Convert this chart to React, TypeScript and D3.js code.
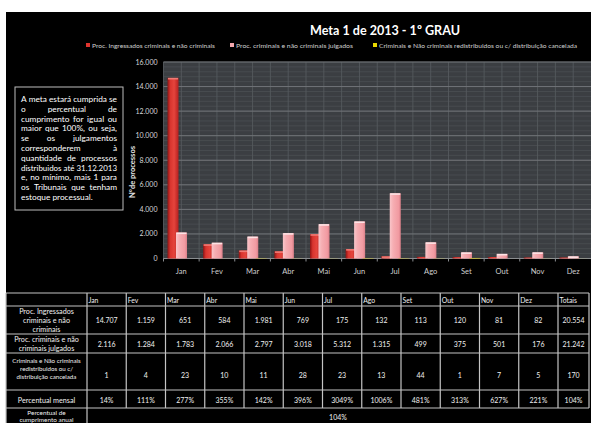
import React, { useEffect, useRef } from 'react';
import * as d3 from 'd3';

const months = ['Jan', 'Fev', 'Mar', 'Abr', 'Mai', 'Jun', 'Jul', 'Ago', 'Set', 'Out', 'Nov', 'Dez'];
const ingressados = [14707, 1159, 651, 584, 1981, 769, 175, 132, 113, 120, 81, 82];
const julgados = [2116, 1284, 1783, 2066, 2797, 3018, 5312, 1315, 499, 375, 501, 176];
const redistribuidos = [1, 4, 23, 10, 11, 28, 23, 13, 44, 1, 7, 5];
const percentualMensal = ['14%', '111%', '277%', '355%', '142%', '396%', '3049%', '1006%', '481%', '313%', '627%', '221%'];
const totais = [20554, 21242, 170];
const percentualTotal = '104%';
const percentualAnual = '104%';
const yTicks = [0, 2000, 4000, 6000, 8000, 10000, 12000, 14000, 16000];

const seriesNames = [
  'Proc. Ingressados criminais e não criminais',
  'Proc. criminais e não criminais julgados',
  'Criminais e Não criminais redistribuidos ou c/ distribuição cancelada',
];

const rowLabels = [
  ['Proc. Ingressados', 'criminais e não', 'criminais'],
  ['Proc. criminais e não', 'criminais julgados'],
  ['Criminais e Não criminais', 'redistribuidos ou c/', 'distribuição cancelada'],
  ['Percentual mensal'],
  ['Percentual de', 'cumprimento anual'],
];

const metaText = [
  'A meta estará cumprida se',
  'o percentual de',
  'cumprimento for igual ou',
  'maior que 100%, ou seja,',
  'se os julgamentos',
  'corresponderem à',
  'quantidade de processos',
  'distribuidos até 31.12.2013',
  'e, no mínimo, mais 1 para',
  'os Tribunais que tenham',
  'estoque processual.',
];

const FONT = 'Lato, "Open Sans", sans-serif';

const App = () => {
  const svgRef = useRef<SVGSVGElement>(null);

  useEffect(() => {
    const svg = d3.select(svgRef.current);
    svg.selectAll('*').remove();

    const ptBR = d3.formatLocale({ decimal: ',', thousands: '.', grouping: [3], currency: ['R$', ''] });
    const fmt = ptBR.format(',');

    // background
    svg.append('rect').attr('width', 591).attr('height', 423).attr('fill', '#fff');
    svg.append('rect').attr('x', 6).attr('y', 12).attr('width', 585).attr('height', 411).attr('fill', '#000');

    const defs = svg.append('defs');
    const grad = (id, stops) => {
      const g = defs.append('linearGradient').attr('id', id).attr('x1', 0).attr('x2', 1).attr('y1', 0).attr('y2', 0);
      stops.forEach(([o, c]) => g.append('stop').attr('offset', o).attr('stop-color', c));
    };
    grad('gRed', [[0, '#8e1414'], [0.25, '#d8342e'], [0.6, '#e5443c'], [1, '#b52020']]);
    grad('gPink', [[0, '#f9c6ca'], [0.3, '#f6aeb3'], [0.8, '#f19aa1'], [1, '#d97f88']]);
    grad('gYellow', [[0, '#b8a800'], [0.4, '#e8d800'], [1, '#c7b600']]);
    const fills = ['url(#gRed)', 'url(#gPink)', 'url(#gYellow)'];
    const caps = ['#f07a74', '#fde3e5', '#fff27a'];
    const legendColors = ['#e0342e', '#f4a8ae', '#e8d800'];

    // title
    svg.append('text')
      .attr('x', 385).attr('y', 34.5)
      .attr('text-anchor', 'middle')
      .attr('font-family', FONT).attr('font-weight', 'bold').attr('font-size', 14)
      .attr('textLength', 150).attr('lengthAdjust', 'spacingAndGlyphs')
      .attr('fill', '#fff')
      .text('Meta 1 de 2013 - 1º GRAU');

    // legend
    const legendX = [86, 230, 373];
    const legendW = [123, 117, 198];
    seriesNames.forEach((name, i) => {
      svg.append('rect').attr('x', legendX[i]).attr('y', 43).attr('width', 4).attr('height', 4).attr('fill', legendColors[i]);
      svg.append('text')
        .attr('x', legendX[i] + 6).attr('y', 47.5)
        .attr('font-family', FONT).attr('font-size', 6.5)
        .attr('textLength', legendW[i]).attr('lengthAdjust', 'spacingAndGlyphs')
        .attr('fill', '#d0d0d0')
        .text(name);
    });

    // chart
    const x = d3.scaleBand().domain(months).range([163.5, 591]);
    const y = d3.scaleLinear().domain([0, 16000]).range([258.5, 62]);
    const inner = d3.scaleBand().domain(['0', '1', '2']).range([4, 32]).paddingInner(-0.3);

    const plot = svg.append('g');
    plot.append('rect')
      .attr('x', x.range()[0]).attr('y', y(16000))
      .attr('width', x.range()[1] - x.range()[0]).attr('height', y(0) - y(16000))
      .attr('fill', '#3b3e42');

    d3.range(0, 16001, 400).forEach(v => {
      plot.append('line')
        .attr('x1', x.range()[0]).attr('x2', x.range()[1])
        .attr('y1', y(v)).attr('y2', y(v))
        .attr('stroke', '#4b4f53').attr('stroke-width', 0.8);
    });
    months.forEach(m => {
      [0, x.bandwidth() / 2].forEach(o => {
        plot.append('line')
          .attr('x1', x(m) + o).attr('x2', x(m) + o)
          .attr('y1', y(16000)).attr('y2', y(0))
          .attr('stroke', '#55595d').attr('stroke-width', 0.9);
      });
    });
    yTicks.forEach(v => {
      plot.append('line')
        .attr('x1', x.range()[0]).attr('x2', x.range()[1])
        .attr('y1', y(v)).attr('y2', y(v))
        .attr('stroke', '#717478').attr('stroke-width', 1);
    });

    // axes
    plot.append('line')
      .attr('x1', x.range()[0]).attr('x2', x.range()[1])
      .attr('y1', y(0)).attr('y2', y(0))
      .attr('stroke', '#8a8d90');
    months.forEach(m => {
      plot.append('line')
        .attr('x1', x(m)).attr('x2', x(m))
        .attr('y1', y(0)).attr('y2', y(0) + 3)
        .attr('stroke', '#8a8d90');
      plot.append('text')
        .attr('x', x(m) + x.bandwidth() / 2).attr('y', 273.5)
        .attr('text-anchor', 'middle')
        .attr('font-family', FONT).attr('font-size', 7.5)
        .attr('fill', '#cfcfcf')
        .text(m);
    });
    yTicks.forEach(v => {
      plot.append('text')
        .attr('x', 157.5).attr('y', y(v) + 2.5)
        .attr('text-anchor', 'end')
        .attr('font-family', FONT).attr('font-size', 7)
        .attr('fill', '#d8d8d8')
        .text(fmt(v));
    });
    plot.append('text')
      .attr('transform', 'translate(135,172) rotate(-90)')
      .attr('text-anchor', 'middle')
      .attr('font-family', FONT).attr('font-weight', 'bold').attr('font-size', 7.5)
      .attr('fill', '#e0e0e0')
      .text('N°de processos');

    // bars
    [ingressados, julgados, redistribuidos].forEach((series, s) => {
      series.forEach((v, i) => {
        const bx = x(months[i]) + inner(String(s));
        const bw = inner.bandwidth();
        const top = y(v);
        const h = y(0) - top;
        plot.append('rect')
          .attr('x', bx).attr('y', top).attr('width', bw).attr('height', h)
          .attr('fill', fills[s]);
        if (h > 2) {
          plot.append('rect')
            .attr('x', bx + 0.5).attr('y', top).attr('width', bw - 1).attr('height', 1.6)
            .attr('fill', caps[s]);
        }
      });
    });

    // text box
    const box = { x: 15, y: 87, w: 108, h: 123 };
    svg.append('rect')
      .attr('x', box.x).attr('y', box.y).attr('width', box.w).attr('height', box.h)
      .attr('fill', '#000').attr('stroke', '#bdbdbd').attr('stroke-width', 1);
    const tx0 = 21;
    const tw = 96;
    metaText.forEach((line, li) => {
      const by = 102 + li * 9.8;
      const words = line.split(' ');
      const last = li === metaText.length - 1;
      const nodes = words.map(w => svg.append('text')
        .attr('y', by)
        .attr('font-family', FONT).attr('font-size', 8.3)
        .attr('fill', '#fff')
        .text(w));
      const widths = nodes.map(n => (n.node() as SVGTextElement).getComputedTextLength());
      const total = d3.sum(widths);
      const gap = words.length > 1 ? (tw - total) / (words.length - 1) : 0;
      if (last) {
        nodes.forEach(n => n.remove());
        svg.append('text').attr('x', tx0).attr('y', by)
          .attr('font-family', FONT).attr('font-size', 8.3).attr('fill', '#fff').text(line);
      } else if (gap < 1.6) {
        nodes.forEach(n => n.remove());
        svg.append('text').attr('x', tx0).attr('y', by)
          .attr('font-family', FONT).attr('font-size', 8.3).attr('fill', '#fff')
          .attr('textLength', tw).attr('lengthAdjust', 'spacingAndGlyphs')
          .text(line);
      } else {
        let cx = tx0;
        nodes.forEach((n, k) => {
          n.attr('x', cx);
          cx += widths[k] + gap;
        });
      }
    });

    // table
    const cols = d3.scaleBand().domain(months).range([87, 558]);
    const colEdges = [6, ...months.map(m => cols(m)), 558, 589];
    const rowEdges = [293, 306, 334, 353, 390, 408, 432];
    const tbl = svg.append('g');
    const lineColor = '#c4c4c4';
    rowEdges.forEach(ry => {
      tbl.append('line').attr('x1', 6).attr('x2', 589).attr('y1', ry).attr('y2', ry)
        .attr('stroke', lineColor).attr('stroke-width', 1.2);
    });
    colEdges.forEach(cx => {
      tbl.append('line').attr('x1', cx).attr('x2', cx).attr('y1', 293).attr('y2', 408)
        .attr('stroke', lineColor).attr('stroke-width', 1.2);
    });
    [6, 87].forEach(cx => {
      tbl.append('line').attr('x1', cx).attr('x2', cx).attr('y1', 408).attr('y2', 432)
        .attr('stroke', lineColor).attr('stroke-width', 1.2);
    });

    const cellText = (tx, ty, t, size = 7, anchor = 'middle') => tbl.append('text')
      .attr('x', tx).attr('y', ty)
      .attr('text-anchor', anchor)
      .attr('font-family', FONT).attr('font-size', size)
      .attr('fill', '#f0f0f0')
      .text(t);

    [...months, 'Totais'].forEach((m, i) => cellText(colEdges[i + 1] + 1.5, 302.5, m, 6.8, 'start'));

    const rowBase = [323, 346.5, 378, 402.5];
    const rows = [
      [...ingressados.map(fmt), fmt(totais[0])],
      [...julgados.map(fmt), fmt(totais[1])],
      [...redistribuidos.map(fmt), fmt(totais[2])],
      [...percentualMensal, percentualTotal],
    ];
    rows.forEach((vals, r) => {
      vals.forEach((v, c) => {
        cellText((colEdges[c + 1] + colEdges[c + 2]) / 2, rowBase[r], v, 7);
      });
    });
    cellText((87 + 589) / 2, 419.5, percentualAnual, 7);

    const labelBase = [[314, 323, 332], [341.5, 350.5], [363, 371, 379], [402.5], [414.5, 421.5]];
    rowLabels.forEach((lines, r) => {
      lines.forEach((l, k) => cellText(46.5, labelBase[r][k], l, r === 2 ? 6.2 : r === 4 ? 6.4 : 7.2));
    });
  }, []);

  return (
    <>
      <style>{'body{margin:0}svg{display:block}'}</style>
      <svg ref={svgRef} width={591} height={423}></svg>
    </>
  );
};

export default App;
